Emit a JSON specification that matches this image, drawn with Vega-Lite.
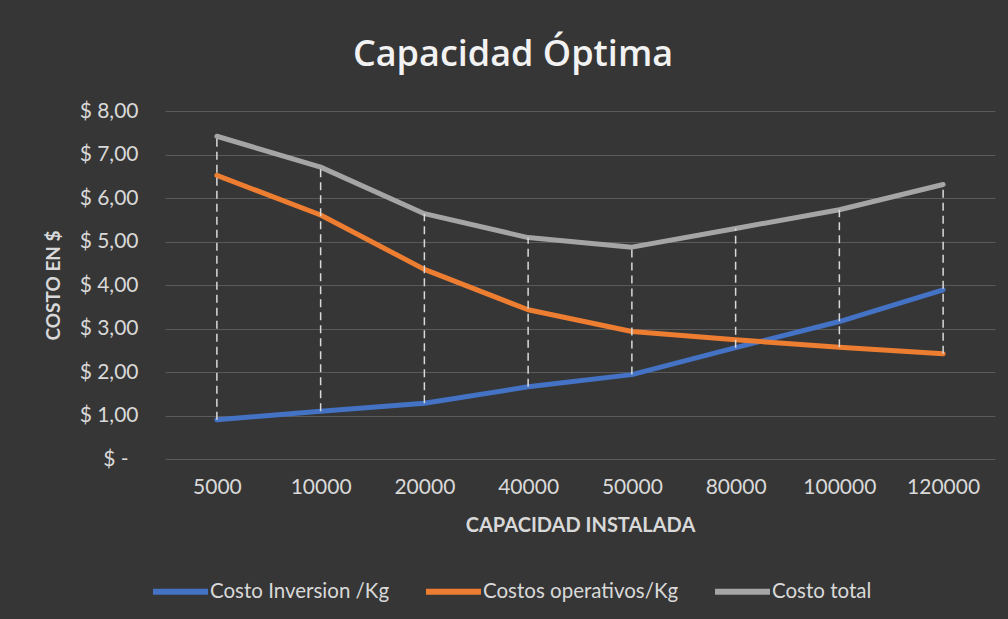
{
  "$schema": "https://vega.github.io/schema/vega-lite/v6.json",
  "width": 830,
  "height": 348,
  "autosize": {"type": "none"},
  "padding": {"left": 165, "top": 111, "right": 13, "bottom": 160},
  "background": "#363636",
  "title": {
    "text": "Capacidad Óptima",
    "font": "Open Sans",
    "fontSize": 36,
    "fontWeight": 600,
    "color": "#f2f2f2",
    "anchor": "middle",
    "offset": 26,
    "dx": -67
  },
  "data": {
    "values": [
      {"capacidad": "5000", "serie": "Costo Inversion /Kg", "costo": 0.90},
      {"capacidad": "10000", "serie": "Costo Inversion /Kg", "costo": 1.10},
      {"capacidad": "20000", "serie": "Costo Inversion /Kg", "costo": 1.28},
      {"capacidad": "40000", "serie": "Costo Inversion /Kg", "costo": 1.66},
      {"capacidad": "50000", "serie": "Costo Inversion /Kg", "costo": 1.94},
      {"capacidad": "80000", "serie": "Costo Inversion /Kg", "costo": 2.56},
      {"capacidad": "100000", "serie": "Costo Inversion /Kg", "costo": 3.16},
      {"capacidad": "120000", "serie": "Costo Inversion /Kg", "costo": 3.89},
      {"capacidad": "5000", "serie": "Costos operativos/Kg", "costo": 6.52},
      {"capacidad": "10000", "serie": "Costos operativos/Kg", "costo": 5.61},
      {"capacidad": "20000", "serie": "Costos operativos/Kg", "costo": 4.36},
      {"capacidad": "40000", "serie": "Costos operativos/Kg", "costo": 3.43},
      {"capacidad": "50000", "serie": "Costos operativos/Kg", "costo": 2.93},
      {"capacidad": "80000", "serie": "Costos operativos/Kg", "costo": 2.74},
      {"capacidad": "100000", "serie": "Costos operativos/Kg", "costo": 2.57},
      {"capacidad": "120000", "serie": "Costos operativos/Kg", "costo": 2.42},
      {"capacidad": "5000", "serie": "Costo total", "costo": 7.42},
      {"capacidad": "10000", "serie": "Costo total", "costo": 6.71},
      {"capacidad": "20000", "serie": "Costo total", "costo": 5.64},
      {"capacidad": "40000", "serie": "Costo total", "costo": 5.09},
      {"capacidad": "50000", "serie": "Costo total", "costo": 4.87},
      {"capacidad": "80000", "serie": "Costo total", "costo": 5.30},
      {"capacidad": "100000", "serie": "Costo total", "costo": 5.73},
      {"capacidad": "120000", "serie": "Costo total", "costo": 6.31}
    ]
  },
  "encoding": {
    "x": {
      "field": "capacidad",
      "type": "ordinal",
      "sort": ["5000", "10000", "20000", "40000", "50000", "80000", "100000", "120000"],
      "scale": {"type": "point", "padding": 0.5},
      "axis": {
        "title": "CAPACIDAD INSTALADA",
        "labelAngle": 0,
        "grid": false,
        "domain": false,
        "ticks": false,
        "labelPadding": 17,
        "labelFont": "Lato",
        "labelFontSize": 21,
        "labelColor": "#d9d9d9",
        "titleFont": "Lato",
        "titleFontSize": 20,
        "titleFontWeight": "bold",
        "titleColor": "#d9d9d9",
        "titlePadding": 18
      }
    }
  },
  "layer": [
    {
      "mark": {"type": "line", "strokeWidth": 5, "strokeCap": "round", "strokeJoin": "round"},
      "encoding": {
        "y": {
          "field": "costo",
          "type": "quantitative",
          "scale": {"domain": [0, 8]},
          "axis": {
            "title": "COSTO EN $",
            "values": [0, 1, 2, 3, 4, 5, 6, 7, 8],
            "labelExpr": "datum.value == 0 ? '$ -' : '$ ' + replace(format(datum.value, '.2f'), '.', ',')",
            "grid": true,
            "gridColor": "#5a5a5a",
            "gridWidth": 1,
            "domain": false,
            "ticks": false,
            "labelPadding": {"condition": {"test": "datum.value == 0", "value": 37}, "value": 27},
            "labelFont": "Lato",
            "labelFontSize": 21,
            "labelColor": "#d9d9d9",
            "titleFont": "Lato",
            "titleFontSize": 19,
            "titleFontWeight": "bold",
            "titleColor": "#d9d9d9",
            "titlePadding": 16
          }
        },
        "color": {
          "field": "serie",
          "type": "nominal",
          "sort": ["Costo Inversion /Kg", "Costos operativos/Kg", "Costo total"],
          "scale": {
            "domain": ["Costo Inversion /Kg", "Costos operativos/Kg", "Costo total"],
            "range": ["#4472C4", "#ED7D31", "#A5A5A5"]
          },
          "legend": {
            "title": null,
            "orient": "none",
            "direction": "horizontal",
            "legendX": -15,
            "legendY": 450,
            "symbolType": "stroke",
            "symbolSize": 3025,
            "symbolStrokeWidth": 6,
            "labelFont": "Lato",
            "labelFontSize": 20.5,
            "labelLimit": 400,
            "labelColor": "#d9d9d9",
            "labelOffset": -1,
            "columnPadding": 24
          }
        }
      }
    },
    {
      "mark": {"type": "rule", "strokeDash": [8, 5], "strokeWidth": 1.5, "color": "#d9d9d9"},
      "encoding": {
        "y": {"aggregate": "min", "field": "costo", "type": "quantitative"},
        "y2": {"aggregate": "max", "field": "costo"}
      }
    }
  ],
  "config": {"view": {"stroke": null}}
}
